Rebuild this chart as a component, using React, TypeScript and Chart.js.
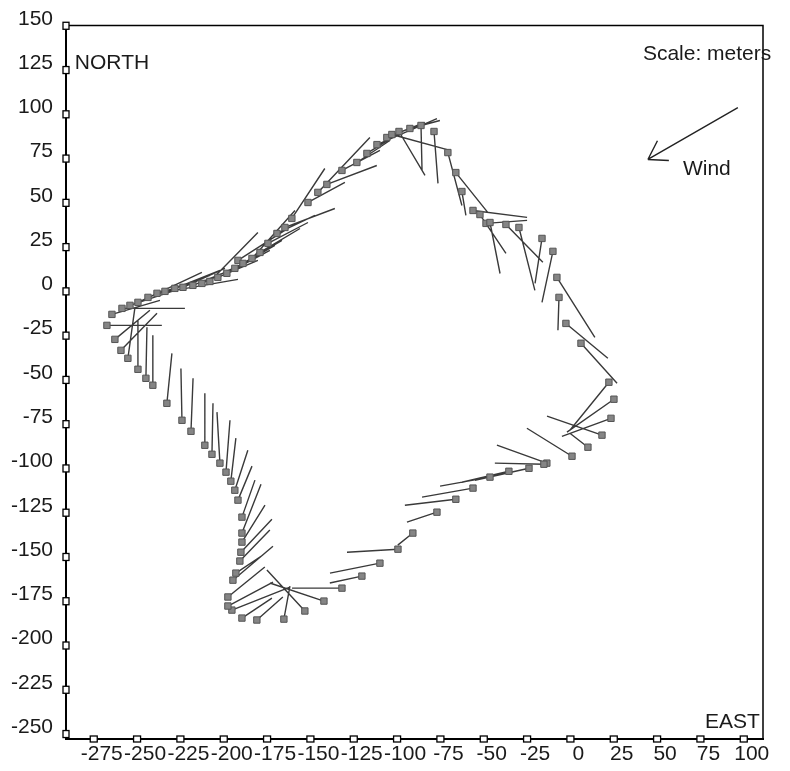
import { useEffect, useRef } from "react";
import { Chart, registerables } from "chart.js";

Chart.register(...registerables);

// Axis tick labels (meters)
const xTickValues = [-275, -250, -225, -200, -175, -150, -125, -100, -75, -50, -25, 0, 25, 50, 75, 100];
const yTickValues = [-250, -225, -200, -175, -150, -125, -100, -75, -50, -25, 0, 25, 50, 75, 100, 125, 150];

// Track positions (east, north) in meters
const east = [
  -264.5, -258.7, -254.1, -249.5, -243.7, -238.5, -233.9, -228.2, -223.5, -217.8,
  -212.6, -208, -203.4, -198.2, -193.6, -191.8, -188.9, -183.7, -179.1, -174.5,
  -169.3, -164.7, -160.7, -151.4, -145.7, -140.5, -131.8, -123.2, -117.4, -111.6,
  -105.9, -98.9, -103, -92.6, -86.2,
  -78.7, -70.7, -66.1, -62.6, -56.2, -48.7, -46.4, -52.2, -37.2, -29.7,
  -16.4, -10.1, -7.8, -6.6, -2.6, 6.1, 22.2, 25.1, 23.4, 18.2,
  10.1, 0.9, -13.6, -15.3,
  -23.9, -35.5, -46.4, -56.2, -66.1, -77, -90.9, -99.5, -109.9, -120.3,
  -131.8, -142.2, -153.2, -165.3, -180.9, -189.5, -195.3, -197.6, -197.6, -194.7,
  -193, -190.7, -190.1, -189.5, -189.5, -189.5, -191.8, -193.6, -195.9, -198.7,
  -202.2, -206.8, -210.9, -218.9, -224.1, -232.8, -240.9, -244.9, -249.5, -255.3,
  -259.3, -262.8, -267.4,
];
const north = [
  -13, -9.6, -7.9, -6.2, -3.4, -1.1, 0, 1.7, 2.3, 3.4,
  4.5, 5.6, 7.9, 10.2, 13, 17.5, 15.8, 18.6, 22, 27.1,
  32.7, 36.1, 41.2, 50.2, 55.9, 60.4, 68.3, 72.8, 77.9, 82.9,
  86.9, 90.3, 88.6, 92, 93.7,
  90.3, 78.4, 67.1, 56.4, 45.7, 38.4, 38.9, 43.4, 37.8, 36.1,
  29.9, 22.6, 7.9, -3.4, -18.1, -29.3, -51.3, -60.9, -71.7, -81.2,
  -88, -93.1, -97, -97.6,
  -99.9, -101.6, -104.9, -111.1, -117.4, -124.7, -136.5, -145.6, -153.5, -160.8,
  -167.6, -174.9, -180.5, -185.1, -185.6, -184.5, -180, -177.7, -172.6, -163.1,
  -159.1, -152.3, -147.3, -141.6, -136.5, -127.5, -117.9, -112.3, -107.2, -102.1,
  -97, -92, -86.9, -79, -72.8, -63.2, -53, -49.1, -44, -37.8,
  -33.3, -27.1, -19.2,
];
// Vector components (east, north) in meters
const vecU = [
  27.7, 36.3, 26, 36.9, 24.2, 46.7, 26, 26, 24.2, 27.1,
  24.8, 27.7, 23.1, 24.8, 23.1, 28.8, 22.5, 24.8, 23.1, 23.1,
  21.9, 28.8, 19, 21.3, 30, 28.8, 21.9, 19, 19, 34.6,
  21.9, 15, 33.5, 17.3, 0.6,
  2.3, 8.1, 18.5, 2.3, 31.2, 23.7, 5.8, 15, 21.3, 9.2,
  -4, -6.3, 21.9, -0.6, 24.2, 20.8, -22.5, -27.1, -28.3, -31.7,
  -10.4, -26, -28.8, -28.3,
  -31.2, -27.1, -28.8, -29.4, -29.4, -17.3, -8.7, -29.4, -28.8, -18.5,
  -28.8, -31.2, -21.9, 3.5, 15, 17.3, 33.5, 26, 21.3, 23.1,
  15.6, 17.3, 17.9, 13.3, 11, 7.5, 8.1, 7.5, 2.9, 2.3,
  -1.7, 0.6, 0, 1.2, -0.6, 2.9, 0, 0.6, 0, 4,
  20.8, 20.2, 31.7,
];
const vecV = [
  7.9, 0, 8.5, 16.9, 7.9, 7.9, 9, 10.2, 10.7, 10.7,
  11.8, 27.6, 9.6, 13, 13, 18.1, 13, 27.1, 13.5, 11.8,
  10.2, 10.7, 28.2, 11.3, 31, 10.7, 11.3, 12.4, 11.8, 14.7,
  8.5, -24.8, -9, 4.5, -25.4,
  -29.3, -29.9, -22.6, -13.5, -3.9, 1.7, -28.8, -22, -21.4, -35.5,
  -25.4, -28.8, -33.9, -18.6, -19.7, -22.6, -27.1, -18.6, -10.2, 10.7,
  7.9, 15.8, 10.2, 0.6,
  -6.8, -6.2, -5.1, -5.1, -3.4, -5.6, -6.8, -1.7, -5.6, -3.9,
  0, 10.2, 23.1, 18.6, 13, 11.3, 13, 13.5, 16.9, 19.2,
  10.2, 17.5, 18.6, 20.9, 27.6, 20.9, 19.2, 22.6, 24.3, 29.3,
  28.8, 28.8, 29.3, 29.9, 29.3, 28.2, 28.2, 28.8, 27.6, 28.2,
  20.9, 16.4, 0,
];

// Annotations (data coordinates)
const labelTexts = ["NORTH", "EAST", "Scale: meters", "Wind"];
const labelEast = [-285.9, 77.6, 41.8, 64.9];
const labelNorth = [128.6, -243.2, 133.7, 68.8];
const windFrom = [96.6, 103.8];
const windTo = [44.7, 74.5];

const FONT = '"Liberation Sans", Arial, sans-serif';

export default function App() {
  const ref = useRef<HTMLCanvasElement>(null);

  useEffect(() => {
    if (!ref.current) return;
    const vectorData: { x: number; y: number | null }[] = [];
    east.forEach((x, i) => {
      vectorData.push({ x, y: north[i] });
      vectorData.push({ x: x + vecU[i], y: north[i] + vecV[i] });
      vectorData.push({ x, y: null });
    });
    const points = east.map((x, i) => ({ x, y: north[i] }));

    const frame = {
      id: "frame",
      afterDraw(chart: any) {
        const { ctx, chartArea } = chart;
        const xs = chart.scales.x;
        const ys = chart.scales.y;
        ctx.save();
        // top & right border
        ctx.strokeStyle = "#000";
        ctx.lineWidth = 1.5;
        ctx.beginPath();
        ctx.moveTo(chartArea.left, chartArea.top);
        ctx.lineTo(chartArea.right, chartArea.top);
        ctx.lineTo(chartArea.right, chartArea.bottom);
        ctx.stroke();
        // tick squares
        ctx.lineWidth = 1.3;
        ctx.fillStyle = "#fff";
        xs.ticks.forEach((t: any) => {
          const px = xs.getPixelForValue(t.value);
          ctx.fillRect(px - 3.5, chartArea.bottom - 3, 7, 6);
          ctx.strokeRect(px - 3.5, chartArea.bottom - 3, 7, 6);
        });
        ys.ticks.forEach((t: any) => {
          const py = ys.getPixelForValue(t.value);
          ctx.fillRect(chartArea.left - 3, py - 3.5, 6, 7);
          ctx.strokeRect(chartArea.left - 3, py - 3.5, 6, 7);
        });
        // text labels
        ctx.fillStyle = "#1a1a1a";
        ctx.font = `21px ${FONT}`;
        ctx.textAlign = "left";
        ctx.textBaseline = "middle";
        labelTexts.forEach((t, i) => {
          ctx.fillText(t, xs.getPixelForValue(labelEast[i]), ys.getPixelForValue(labelNorth[i]));
        });
        // wind arrow
        const x0 = xs.getPixelForValue(windFrom[0]);
        const y0 = ys.getPixelForValue(windFrom[1]);
        const x1 = xs.getPixelForValue(windTo[0]);
        const y1 = ys.getPixelForValue(windTo[1]);
        ctx.strokeStyle = "#222";
        ctx.lineWidth = 1.4;
        ctx.beginPath();
        ctx.moveTo(x0, y0);
        ctx.lineTo(x1, y1);
        const ang = Math.atan2(y0 - y1, x0 - x1);
        const hl = 21;
        const spread = (33 * Math.PI) / 180;
        ctx.moveTo(x1, y1);
        ctx.lineTo(x1 + hl * Math.cos(ang - spread), y1 + hl * Math.sin(ang - spread));
        ctx.moveTo(x1, y1);
        ctx.lineTo(x1 + hl * Math.cos(ang + spread), y1 + hl * Math.sin(ang + spread));
        ctx.stroke();
        ctx.restore();
      },
    };

    const tickFont = { family: FONT, size: 21 };
    const chart = new Chart(ref.current, {
      type: "scatter",
      data: {
        datasets: [
          {
            label: "positions",
            data: points,
            pointStyle: "rect",
            pointRadius: 4.5,
            backgroundColor: "#858585",
            borderColor: "#555",
            borderWidth: 1,
          },
          {
            label: "vectors",
            type: "line",
            data: vectorData,
            showLine: true,
            spanGaps: false,
            pointRadius: 0,
            borderColor: "#3a3a3a",
            borderWidth: 1.4,
            fill: false,
          } as any,
        ],
      },
      options: {
        animation: false,
        responsive: true,
        maintainAspectRatio: false,
        events: [],
        layout: { padding: { top: 25, right: 27, left: 0, bottom: 0 } },
        plugins: { legend: { display: false }, tooltip: { enabled: false } },
        scales: {
          x: {
            type: "linear",
            min: -291,
            max: 111.1,
            grid: { display: false, drawTicks: false },
            border: { display: true, color: "#000", width: 2 },
            ticks: {
              autoSkip: false,
              maxRotation: 0,
              minRotation: 0,
              font: tickFont,
              color: "#1a1a1a",
              padding: 3,
              labelOffset: 8,
            },
            afterBuildTicks: (s: any) => {
              s.ticks = xTickValues.map((v) => ({ value: v }));
            },
            afterFit: (s: any) => {
              s.height = 32;
            },
          },
          y: {
            type: "linear",
            min: -252.8,
            max: 150.1,
            grid: { display: false, drawTicks: false },
            border: { display: true, color: "#000", width: 2 },
            ticks: {
              autoSkip: false,
              font: tickFont,
              color: "#1a1a1a",
              padding: 13,
              labelOffset: -7,
            },
            afterBuildTicks: (s: any) => {
              s.ticks = yTickValues.map((v) => ({ value: v }));
            },
            afterFit: (s: any) => {
              s.width = 66;
            },
          },
        },
      },
      plugins: [frame],
    });
    return () => chart.destroy();
  }, []);

  return (
    <div style={{ position: "fixed", left: 0, top: 0, width: 790, height: 771, background: "#fff" }}>
      <canvas ref={ref} />
    </div>
  );
}
